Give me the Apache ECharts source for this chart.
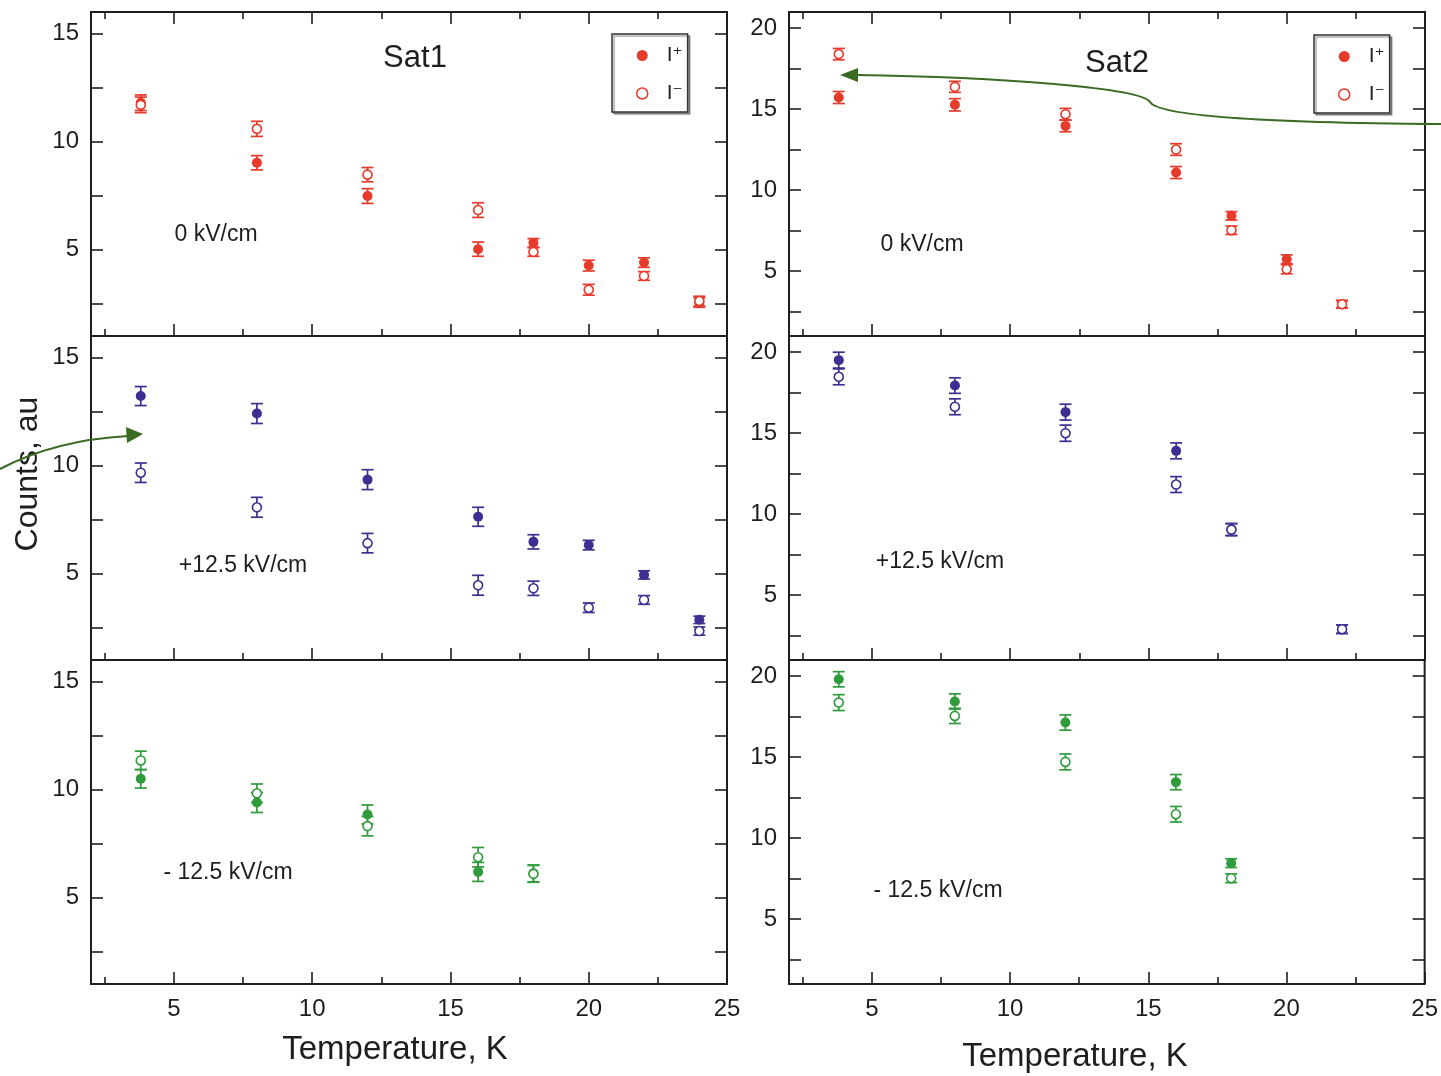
<!DOCTYPE html>
<html><head><meta charset="utf-8">
<script src="https://cdn.jsdelivr.net/npm/echarts@6/dist/echarts.min.js"></script>
<style>html,body{margin:0;padding:0;background:#fff}#c{width:1441px;height:1076px}</style>
</head><body><div id="c"></div>
<script>
// ---------- data ----------
const tempsSat1 = [3.8, 8, 12, 16, 18, 20, 22, 24];
const tempsSat2 = [3.8, 8, 12, 16, 18, 20, 22];

const sat1_0_plus      = [11.8, 9.02, 7.48, 5.02, 5.31, 4.26, 4.40, 2.55];
const sat1_0_plusErr   = [0.36, 0.33, 0.34, 0.33, 0.20, 0.25, 0.22, 0.22];
const sat1_0_minus     = [11.7, 10.59, 8.47, 6.83, 4.89, 3.14, 3.78, 2.62];
const sat1_0_minusErr  = [0.36, 0.35, 0.33, 0.34, 0.20, 0.25, 0.20, 0.22];

const sat1_p_plus      = [13.22, 12.41, 9.35, 7.63, 6.47, 6.32, 4.94, 2.86];
const sat1_p_plusErr   = [0.44, 0.46, 0.46, 0.44, 0.33, 0.22, 0.19, 0.17];
const sat1_p_minus     = [9.67, 8.07, 6.41, 4.46, 4.32, 3.42, 3.78, 2.34];
const sat1_p_minusErr  = [0.45, 0.46, 0.45, 0.46, 0.33, 0.22, 0.20, 0.19];

const sat1_n_plus      = [10.50, 9.40, 8.85, 6.19, 6.12];
const sat1_n_plusErr   = [0.43, 0.46, 0.44, 0.44, 0.39];
const sat1_n_minus     = [11.35, 9.83, 8.31, 6.87, 6.10];
const sat1_n_minusErr  = [0.43, 0.43, 0.45, 0.45, 0.39];

const sat2_0_plus      = [15.72, 15.27, 13.97, 11.09, 8.42, 5.74, 2.96];
const sat2_0_plusErr   = [0.37, 0.38, 0.36, 0.37, 0.26, 0.27, 0.23];
const sat2_0_minus     = [18.40, 16.38, 14.69, 12.51, 7.53, 5.12, 2.96];
const sat2_0_minusErr  = [0.35, 0.34, 0.36, 0.36, 0.26, 0.28, 0.23];

const sat2_p_plus      = [19.51, 17.94, 16.30, 13.91, 9.05, null, 2.90];
const sat2_p_plusErr   = [0.49, 0.48, 0.49, 0.49, 0.37, null, 0.26];
const sat2_p_minus     = [18.48, 16.63, 15.00, 11.83, 9.05, null, 2.90];
const sat2_p_minusErr  = [0.49, 0.49, 0.50, 0.49, 0.37, null, 0.26];

const sat2_n_plus      = [19.81, 18.44, 17.14, 13.46, 8.46];
const sat2_n_plusErr   = [0.47, 0.47, 0.47, 0.47, 0.27];
const sat2_n_minus     = [18.37, 17.55, 14.71, 11.48, 7.53];
const sat2_n_minusErr  = [0.49, 0.47, 0.49, 0.48, 0.27];

const xMajorTicks = [5, 10, 15, 20, 25];
const xMinorTicks = [2.5, 7.5, 12.5, 17.5, 22.5];
const ySat1Ticks  = [2.5, 5, 7.5, 10, 12.5, 15];
const ySat1Labels = [5, 10, 15];
const ySat2Ticks  = [2.5, 5, 7.5, 10, 12.5, 15, 17.5, 20];
const ySat2Labels = [5, 10, 15, 20];

const fieldLabels = ['0 kV/cm', '+12.5 kV/cm', '- 12.5 kV/cm'];
const xTitle = 'Temperature, K';
const yTitle = 'Counts, au';

// ---------- styling ----------
const RED = '#e63a2a', BLUE = '#3d2f91', GREEN = '#2f9b3b';
const FONT = '"Liberation Sans", Arial, sans-serif';
const INK = '#1e1e1e';

const panels = [
  {col:0,row:0,T:tempsSat1,p:sat1_0_plus,pe:sat1_0_plusErr,m:sat1_0_minus,me:sat1_0_minusErr,c:RED,ymax:16,ticks:ySat1Ticks,labels:ySat1Labels},
  {col:0,row:1,T:tempsSat1,p:sat1_p_plus,pe:sat1_p_plusErr,m:sat1_p_minus,me:sat1_p_minusErr,c:BLUE,ymax:16,ticks:ySat1Ticks,labels:ySat1Labels},
  {col:0,row:2,T:tempsSat1,p:sat1_n_plus,pe:sat1_n_plusErr,m:sat1_n_minus,me:sat1_n_minusErr,c:GREEN,ymax:16,ticks:ySat1Ticks,labels:ySat1Labels},
  {col:1,row:0,T:tempsSat2,p:sat2_0_plus,pe:sat2_0_plusErr,m:sat2_0_minus,me:sat2_0_minusErr,c:RED,ymax:21,ticks:ySat2Ticks,labels:ySat2Labels},
  {col:1,row:1,T:tempsSat2,p:sat2_p_plus,pe:sat2_p_plusErr,m:sat2_p_minus,me:sat2_p_minusErr,c:BLUE,ymax:21,ticks:ySat2Ticks,labels:ySat2Labels},
  {col:1,row:2,T:tempsSat2,p:sat2_n_plus,pe:sat2_n_plusErr,m:sat2_n_minus,me:sat2_n_minusErr,c:GREEN,ymax:21,ticks:ySat2Ticks,labels:ySat2Labels}
];

const gridLeft = [91, 789], gridTop = [12, 336, 660], GW = 636, GH = 324;

const grid = [], xAxis = [], yAxis = [], series = [];

function errRender(color){
  return function(params, api){
    const x = api.value(0), lo = api.value(1), hi = api.value(2);
    const a = api.coord([x, lo]), b = api.coord([x, hi]);
    const w = 6;
    const st = {stroke: color, lineWidth: 1.7, fill: null};
    return {type:'group', children:[
      {type:'line', shape:{x1:a[0], y1:a[1], x2:b[0], y2:b[1]}, style:st},
      {type:'line', shape:{x1:a[0]-w, y1:a[1], x2:a[0]+w, y2:a[1]}, style:st},
      {type:'line', shape:{x1:b[0]-w, y1:b[1], x2:b[0]+w, y2:b[1]}, style:st}
    ]};
  };
}

panels.forEach((P, g) => {
  grid.push({left: gridLeft[P.col], top: gridTop[P.row], width: GW, height: GH,
    show: true, borderColor: INK, borderWidth: 2, backgroundColor: 'transparent'});
  const bottomRow = P.row === 2;
  const xi = xAxis.length;
  const mkX = (pos, vals, len, showLabel) => ({
    type:'value', gridIndex:g, min:2, max:25, position:pos,
    axisLine:{show:false}, splitLine:{show:false},
    axisTick:{show:true, inside:true, length:len, customValues:vals, lineStyle:{color:INK, width:1.6}},
    axisLabel:{show:showLabel, customValues:xMajorTicks, fontSize:24, fontFamily:FONT, color:INK, margin:13}
  });
  xAxis.push(mkX('bottom', xMajorTicks, 12, bottomRow));
  xAxis.push(mkX('bottom', xMinorTicks, 7, false));
  if (P.row === 0) {
    xAxis.push(mkX('top', xMajorTicks, 12, false));
    xAxis.push(mkX('top', xMinorTicks, 7, false));
  }
  const yi = yAxis.length;
  const mkY = (pos, showLabel) => ({
    type:'value', gridIndex:g, min:1, max:P.ymax, position:pos,
    axisLine:{show:false}, splitLine:{show:false},
    axisTick:{show:true, inside:true, length:12, customValues:P.ticks, lineStyle:{color:INK, width:1.6}},
    axisLabel:{show:showLabel, customValues:P.labels, fontSize:24, fontFamily:FONT, color:INK, margin:12}
  });
  yAxis.push(mkY('left', true));
  yAxis.push(mkY('right', false));

  const top = P.row === 0;
  const nameP = top ? 'I+' : 'I+ ' + g, nameM = top ? 'I-' : 'I- ' + g;
  const errData = (v, e) => P.T.map((t, i) => v[i] == null ? null : [t, v[i] - e[i], v[i] + e[i]]).filter(d => d);
  const ptData = (v) => P.T.map((t, i) => v[i] == null ? null : [t, v[i]]).filter(d => d);

  series.push({type:'custom', name:'err+ ' + g, xAxisIndex:xi, yAxisIndex:yi, renderItem:errRender(P.c),
    encode:{x:0, y:[1,2]}, data:errData(P.p, P.pe), z:2, silent:true});
  series.push({type:'custom', name:'err- ' + g, xAxisIndex:xi, yAxisIndex:yi, renderItem:errRender(P.c),
    encode:{x:0, y:[1,2]}, data:errData(P.m, P.me), z:2, silent:true});
  series.push({type:'scatter', name:nameP, xAxisIndex:xi, yAxisIndex:yi, symbol:'circle', symbolSize:10,
    itemStyle:{color:P.c, opacity:1}, data:ptData(P.p), z:3});
  series.push({type:'scatter', name:nameM, xAxisIndex:xi, yAxisIndex:yi, symbol:'circle', symbolSize:9,
    itemStyle:{color:'#fff', borderColor:P.c, borderWidth:1.6, opacity:1}, data:ptData(P.m), z:4});
});

const legendBase = (left, top) => ({
  left, top, orient:'vertical', selectedMode:false,
  padding:[11, 5, 8, 24], itemWidth:39, itemHeight:11, itemGap:17,
  backgroundColor:'#fff', borderColor:'#333', borderWidth:1.5,
  shadowColor:'rgba(0,0,0,0.35)', shadowOffsetX:2, shadowOffsetY:2, shadowBlur:1,
  data:[
    {name:'I+', icon:'circle', itemStyle:{color:RED, borderWidth:0}},
    {name:'I-', icon:'circle', itemStyle:{color:'#fff', borderColor:RED, borderWidth:1.5}}
  ],
  formatter: n => n === 'I+' ? '{a|I}{s|\u207A}' : '{a|I}{s|\u207B}',
  textStyle:{rich:{
    a:{fontSize:21, fontFamily:FONT, color:INK, lineHeight:16},
    s:{fontSize:19, fontFamily:'"DejaVu Sans", sans-serif', color:INK, lineHeight:16}
  }}
});

const txt = (x, y, text, size) => ({type:'text', x, y, silent:true,
  style:{text, fontSize:size, fontFamily:FONT, fill:INK, align:'center', verticalAlign:'middle'}});

const ARROW = '#3b6a22';
const graphic = [
  txt(415, 58, 'Sat1', 31),
  txt(1117, 63, 'Sat2', 31),
  txt(216, 235, fieldLabels[0], 23),
  txt(922, 245, fieldLabels[0], 23),
  txt(243, 566, fieldLabels[1], 23),
  txt(940, 562, fieldLabels[1], 23),
  txt(228, 873, fieldLabels[2], 23),
  txt(938, 891, fieldLabels[2], 23),
  txt(395, 1050, xTitle, 33),
  txt(1075, 1057, xTitle, 33),
  {type:'text', x:28, y:474, rotation:Math.PI/2, silent:true,
    style:{text:yTitle, fontSize:32, fontFamily:FONT, fill:INK, align:'center', verticalAlign:'middle'}},
  {type:'bezierCurve', silent:true, z:10,
    shape:{x1:0, y1:469, x2:128, y2:436, cpx1:55, cpy1:440},
    style:{stroke:ARROW, lineWidth:2.2, fill:null}},
  {type:'polygon', silent:true, z:10, shape:{points:[[143,434],[126,427],[127,443]]}, style:{fill:ARROW}},
  {type:'bezierCurve', silent:true, z:10,
    shape:{x1:1441, y1:124, x2:1150, y2:102, cpx1:1290, cpy1:123, cpx2:1160, cpy2:118},
    style:{stroke:ARROW, lineWidth:2.2, fill:null}},
  {type:'bezierCurve', silent:true, z:10,
    shape:{x1:1150, y1:102, x2:856, y2:75, cpx1:1142, cpy1:88, cpx2:1000, cpy2:77},
    style:{stroke:ARROW, lineWidth:2.2, fill:null}},
  {type:'polygon', silent:true, z:10, shape:{points:[[840,75],[858,68],[858,82]]}, style:{fill:ARROW}}
];

const chart = echarts.init(document.getElementById('c'));
chart.setOption({
  backgroundColor:'#fff',
  animation:false,
  grid, xAxis, yAxis, series,
  legend:[legendBase(612, 34), legendBase(1314, 35)],
  graphic
});
</script></body></html>
